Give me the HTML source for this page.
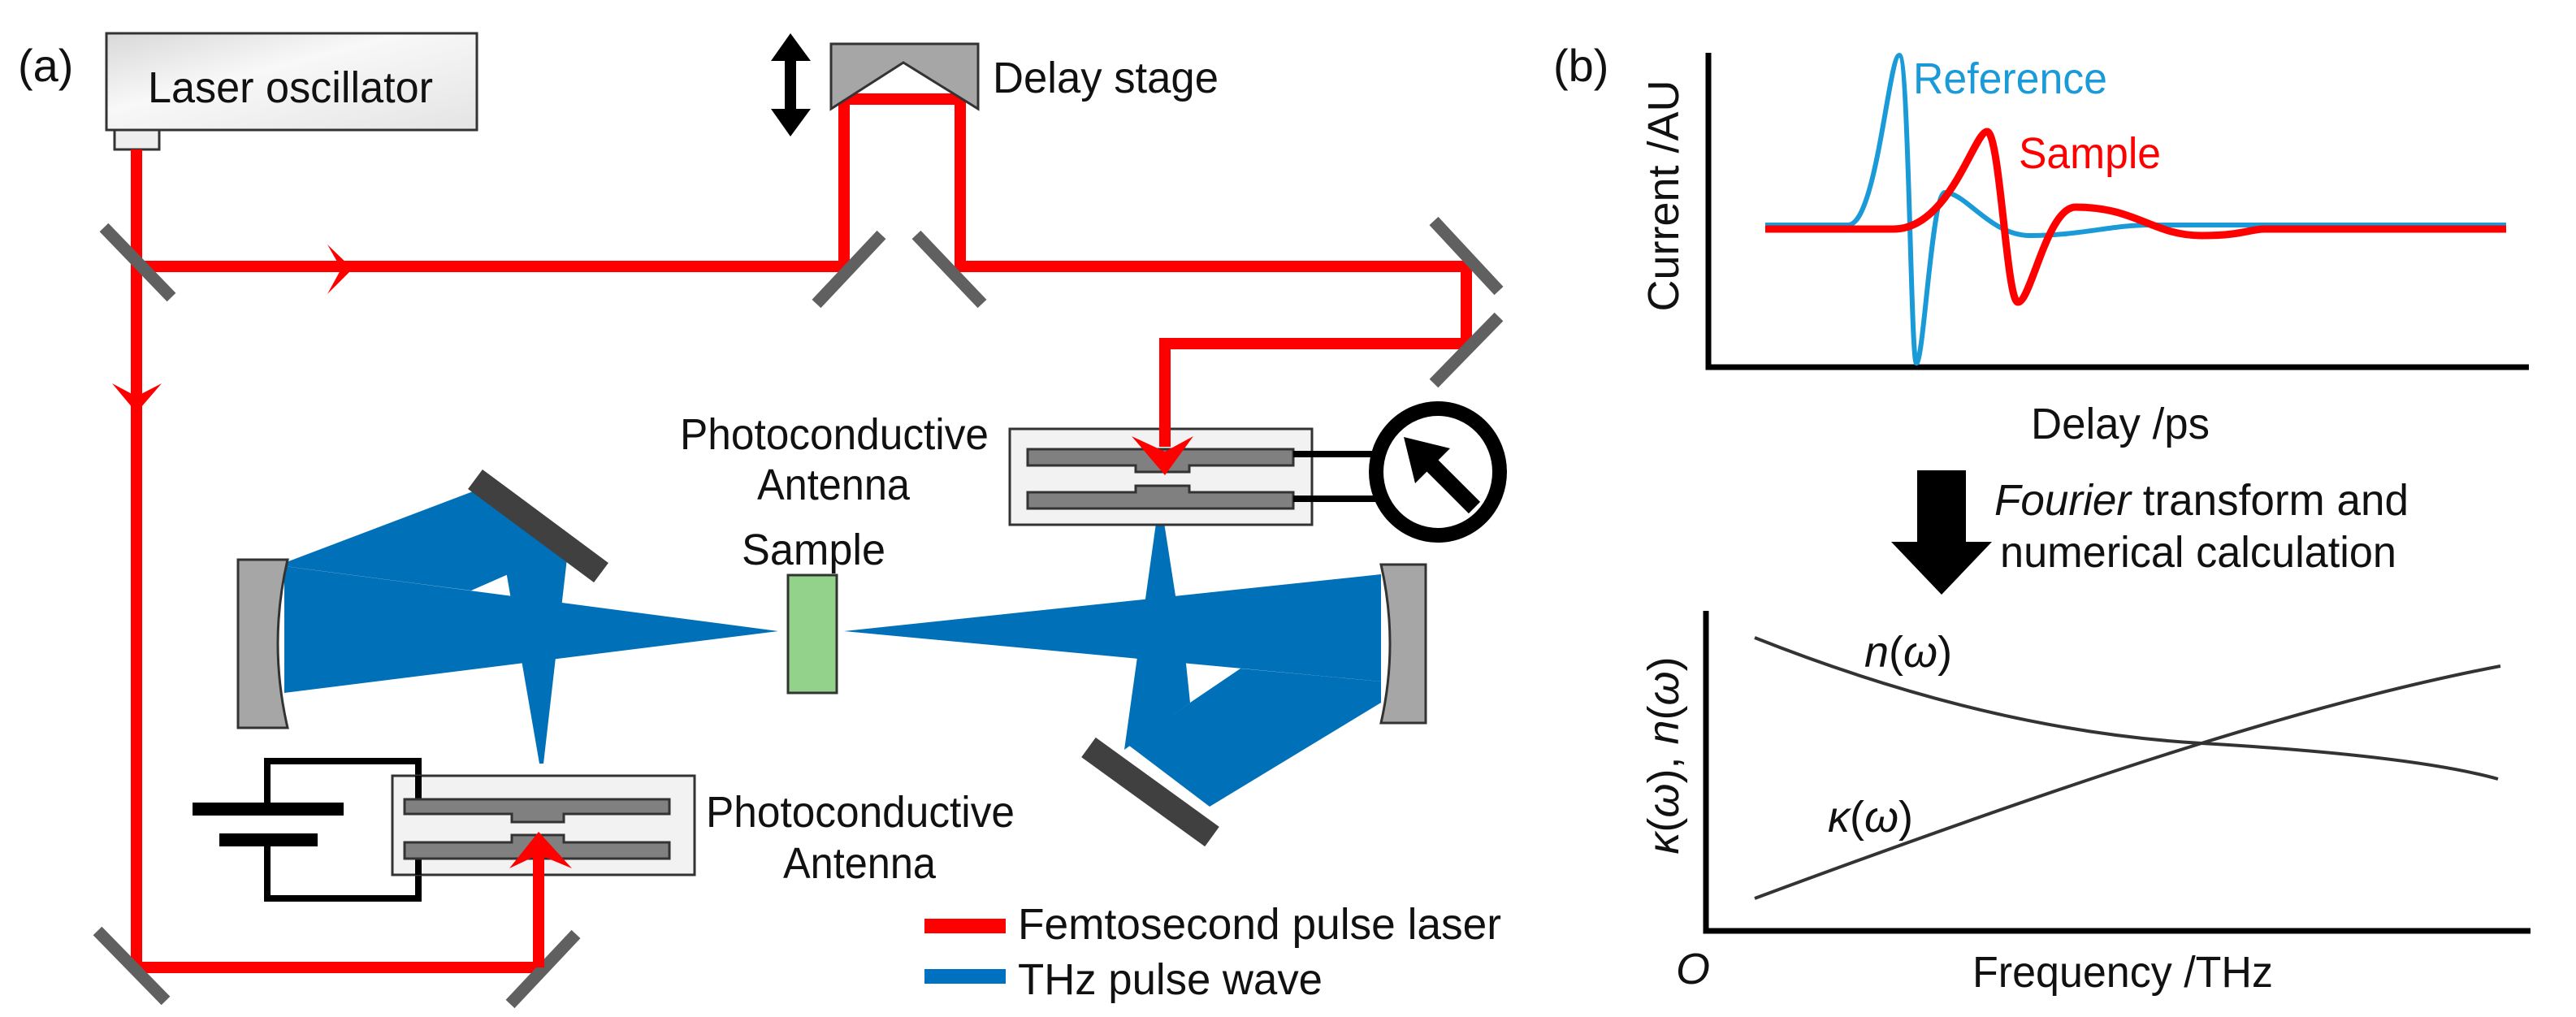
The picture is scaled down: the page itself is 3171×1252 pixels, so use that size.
<!DOCTYPE html>
<html><head><meta charset="utf-8"><style>html,body{margin:0;padding:0;background:#fff}svg{display:block}text{font-family:"Liberation Sans",sans-serif;font-size:54px;fill:#111}</style></head><body>
<svg width="3171" height="1252" viewBox="0 0 3171 1252" xmlns="http://www.w3.org/2000/svg">
<defs><linearGradient id="g" x1="0" y1="0" x2="1" y2="1"><stop offset="0" stop-color="#d8d8d8"/><stop offset="0.4" stop-color="#f8f8f8"/><stop offset="1" stop-color="#e4e4e4"/></linearGradient></defs>
<text x="22" y="100" style="font-size:56px">(a)</text>
<rect x="131" y="41" width="456" height="119" fill="url(#g)" stroke="#333" stroke-width="3"/>
<rect x="141" y="160" width="55" height="24" fill="#eee" stroke="#333" stroke-width="3"/>
<text x="182" y="126" textLength="351" lengthAdjust="spacingAndGlyphs">Laser oscillator</text>
<!-- THz -->
<g fill="#0070b8">
<polygon points="350,697 958,777 350,853"/>
<polygon points="350,693 590,602 705,672 580,727 350,697"/>
<polygon points="623,703 700,670 669,940 664,940"/>
<polygon points="1039,777 1700,707 1700,839"/>
<polygon points="1527,823 1700,839 1700,865 1489,993 1390,918 1465,865"/>
<polygon points="1424,637 1432,637 1460,817 1465,865 1384,923"/>
</g>
<!-- red beams -->
<g stroke="#ff0000" stroke-width="14" fill="none">
<polyline points="168,184 168,1191 663,1191 663,1040"/>
<polyline points="168,328 1039,328 1039,122 1182,122 1182,328 1805,328 1805,423 1434,423 1434,528"/>
</g>
<g fill="#ff0000">
<polygon points="403,301 434,331 403,362 420,331"/>
<polygon points="138,472 168,508 199,472 168,488"/>
</g>
<!-- mirrors -->
<g stroke="#606060" stroke-width="15">
<line x1="128" y1="280" x2="211" y2="366"/>
<line x1="1005" y1="374" x2="1085" y2="289"/>
<line x1="1128" y1="289" x2="1209" y2="374"/>
<line x1="1765" y1="272" x2="1845" y2="358"/>
<line x1="1845" y1="390" x2="1765" y2="472"/>
<line x1="120" y1="1146" x2="204" y2="1232"/>
<line x1="628" y1="1236" x2="709" y2="1150"/>
</g>
<g stroke="#404040" stroke-width="30">
<line x1="585" y1="590" x2="740" y2="705"/>
<line x1="1340" y1="920" x2="1492" y2="1030"/>
</g>
<path d="M293,689 L354,689 Q330,792 354,896 L293,896 Z" fill="#a6a6a6" stroke="#333" stroke-width="3"/>
<path d="M1755,695 L1700,695 Q1722,792 1700,890 L1755,890 Z" fill="#a6a6a6" stroke="#333" stroke-width="3"/>
<rect x="970" y="708" width="60" height="145" fill="#92d28a" stroke="#333" stroke-width="3"/>
<text x="913" y="695" textLength="177" lengthAdjust="spacingAndGlyphs">Sample</text>
<!-- delay stage -->
<polygon points="1023,54 1204,54 1204,134 1112,77 1023,134" fill="#a6a6a6" stroke="#333" stroke-width="3"/>
<line x1="973" y1="60" x2="973" y2="150" stroke="#000" stroke-width="14"/>
<polygon points="949,75 973,41 998,75" fill="#000"/>
<polygon points="949,134 973,168 998,134" fill="#000"/>
<text x="1222" y="114" textLength="278" lengthAdjust="spacingAndGlyphs">Delay stage</text>
<!-- top antenna -->
<rect x="1243" y="528" width="372" height="118" fill="#f2f2f2" stroke="#333" stroke-width="3"/>
<g fill="#808080" stroke="#333" stroke-width="3">
<path d="M1265,553 H1592 V573 H1464 V581 H1398 V573 H1265 Z"/>
<path d="M1265,606 H1398 V598 H1464 V606 H1592 V626 H1265 Z"/>
</g>
<line x1="1434" y1="526" x2="1434" y2="550" stroke="#ff0000" stroke-width="14"/>
<polygon points="1393,537 1434,585 1469,537 1434,556" fill="#ff0000"/>
<g stroke="#000" stroke-width="8"><line x1="1592" y1="559" x2="1700" y2="559"/><line x1="1592" y1="614" x2="1700" y2="614"/></g>
<ellipse cx="1770" cy="581" rx="76" ry="78" fill="none" stroke="#000" stroke-width="18"/>
<line x1="1815" y1="625" x2="1755" y2="565" stroke="#000" stroke-width="20"/>
<polygon points="1728,538 1785,552 1742,595" fill="#000"/>
<text x="837" y="553" textLength="380" lengthAdjust="spacingAndGlyphs">Photoconductive</text>
<text x="932" y="615" textLength="188" lengthAdjust="spacingAndGlyphs">Antenna</text>
<!-- bottom antenna -->
<polyline points="329,996 329,937 515,937 515,990" fill="none" stroke="#000" stroke-width="8"/>
<polyline points="329,1034 329,1106 515,1106 515,1047" fill="none" stroke="#000" stroke-width="8"/>
<rect x="483" y="955" width="372" height="122" fill="#f2f2f2" stroke="#333" stroke-width="3"/>
<line x1="515" y1="955" x2="515" y2="990" stroke="#000" stroke-width="8"/>
<line x1="515" y1="1047" x2="515" y2="1077" stroke="#000" stroke-width="8"/>
<g fill="#808080" stroke="#333" stroke-width="3">
<path d="M498,984 H824 V1002 H694 V1012 H630 V1002 H498 Z"/>
<path d="M498,1037 H630 V1028 H694 V1037 H824 V1057 H498 Z"/>
</g>
<rect x="237" y="988" width="186" height="16" fill="#000"/>
<rect x="270" y="1026" width="121" height="16" fill="#000"/>
<line x1="663" y1="1191" x2="663" y2="1050" stroke="#ff0000" stroke-width="14"/>
<polygon points="627,1069 663,1024 704,1069 663,1052" fill="#ff0000"/>
<text x="869" y="1018" textLength="380" lengthAdjust="spacingAndGlyphs">Photoconductive</text>
<text x="964" y="1081" textLength="188" lengthAdjust="spacingAndGlyphs">Antenna</text>
<!-- legend -->
<rect x="1138" y="1131" width="100" height="18" fill="#ff0000"/>
<rect x="1138" y="1193" width="100" height="18" fill="#0070c0"/>
<text x="1253" y="1156" textLength="595" lengthAdjust="spacingAndGlyphs">Femtosecond pulse laser</text>
<text x="1253" y="1224" textLength="375" lengthAdjust="spacingAndGlyphs">THz  pulse wave</text>
<!-- (b) -->
<text x="1912" y="100" style="font-size:56px">(b)</text>
<polyline points="2103,65 2103,452 3113,452" fill="none" stroke="#000" stroke-width="7"/>
<path d="M2173,277 L2275,277 C2310,277 2325,68 2338,68 C2350,68 2352,447 2359,447 C2368,447 2378,237 2394,237 C2420,237 2450,290 2499,290 C2560,290 2600,277 2646,277 L3085,277" fill="none" stroke="#1a9ad6" stroke-width="6"/>
<path d="M2173,282 L2331,282 C2400,282 2430,162 2446,162 C2462,162 2470,372 2484,372 C2500,372 2520,255 2555,255 C2630,255 2650,290 2710,290 C2760,290 2770,282 2787,282 L3085,282" fill="none" stroke="#ff0000" stroke-width="9"/>
<text x="2355" y="115" style="fill:#1a9ad6" textLength="239" lengthAdjust="spacingAndGlyphs">Reference</text>
<text x="2485" y="207" style="fill:#ff0000" textLength="175" lengthAdjust="spacingAndGlyphs">Sample</text>
<text x="0" y="0" transform="translate(2066,241) rotate(-90)" text-anchor="middle">Current  /AU</text>
<text x="2500" y="540" textLength="220" lengthAdjust="spacingAndGlyphs">Delay /ps</text>
<rect x="2360" y="579" width="60" height="90" fill="#000"/>
<polygon points="2328,667 2452,667 2390,732" fill="#000"/>
<text x="2455" y="634" textLength="510" lengthAdjust="spacingAndGlyphs"><tspan font-style="italic">Fourier</tspan> transform  and</text>
<text x="2462" y="698" textLength="488" lengthAdjust="spacingAndGlyphs">numerical  calculation</text>
<polyline points="2100,752 2100,1146 3115,1146" fill="none" stroke="#000" stroke-width="7"/>
<path d="M2160,785 Q2450,900 2710,915 T3075,959" fill="none" stroke="#333" stroke-width="4"/>
<path d="M2160,1106 Q2500,980 2710,915 T3078,820" fill="none" stroke="#333" stroke-width="4"/>
<text x="2295" y="821" font-style="italic">n<tspan font-style="normal">(</tspan>ω<tspan font-style="normal">)</tspan></text>
<text x="2250" y="1024" font-style="italic">κ<tspan font-style="normal">(</tspan>ω<tspan font-style="normal">)</tspan></text>
<text x="0" y="0" transform="translate(2066,930) rotate(-90)" text-anchor="middle" font-style="italic">κ<tspan font-style="normal">(</tspan>ω<tspan font-style="normal">), </tspan>n<tspan font-style="normal">(</tspan>ω<tspan font-style="normal">)</tspan></text>
<text x="2063" y="1211" font-style="italic">O</text>
<text x="2428" y="1215" textLength="370" lengthAdjust="spacingAndGlyphs">Frequency  /THz</text>
</svg>
</body></html>
